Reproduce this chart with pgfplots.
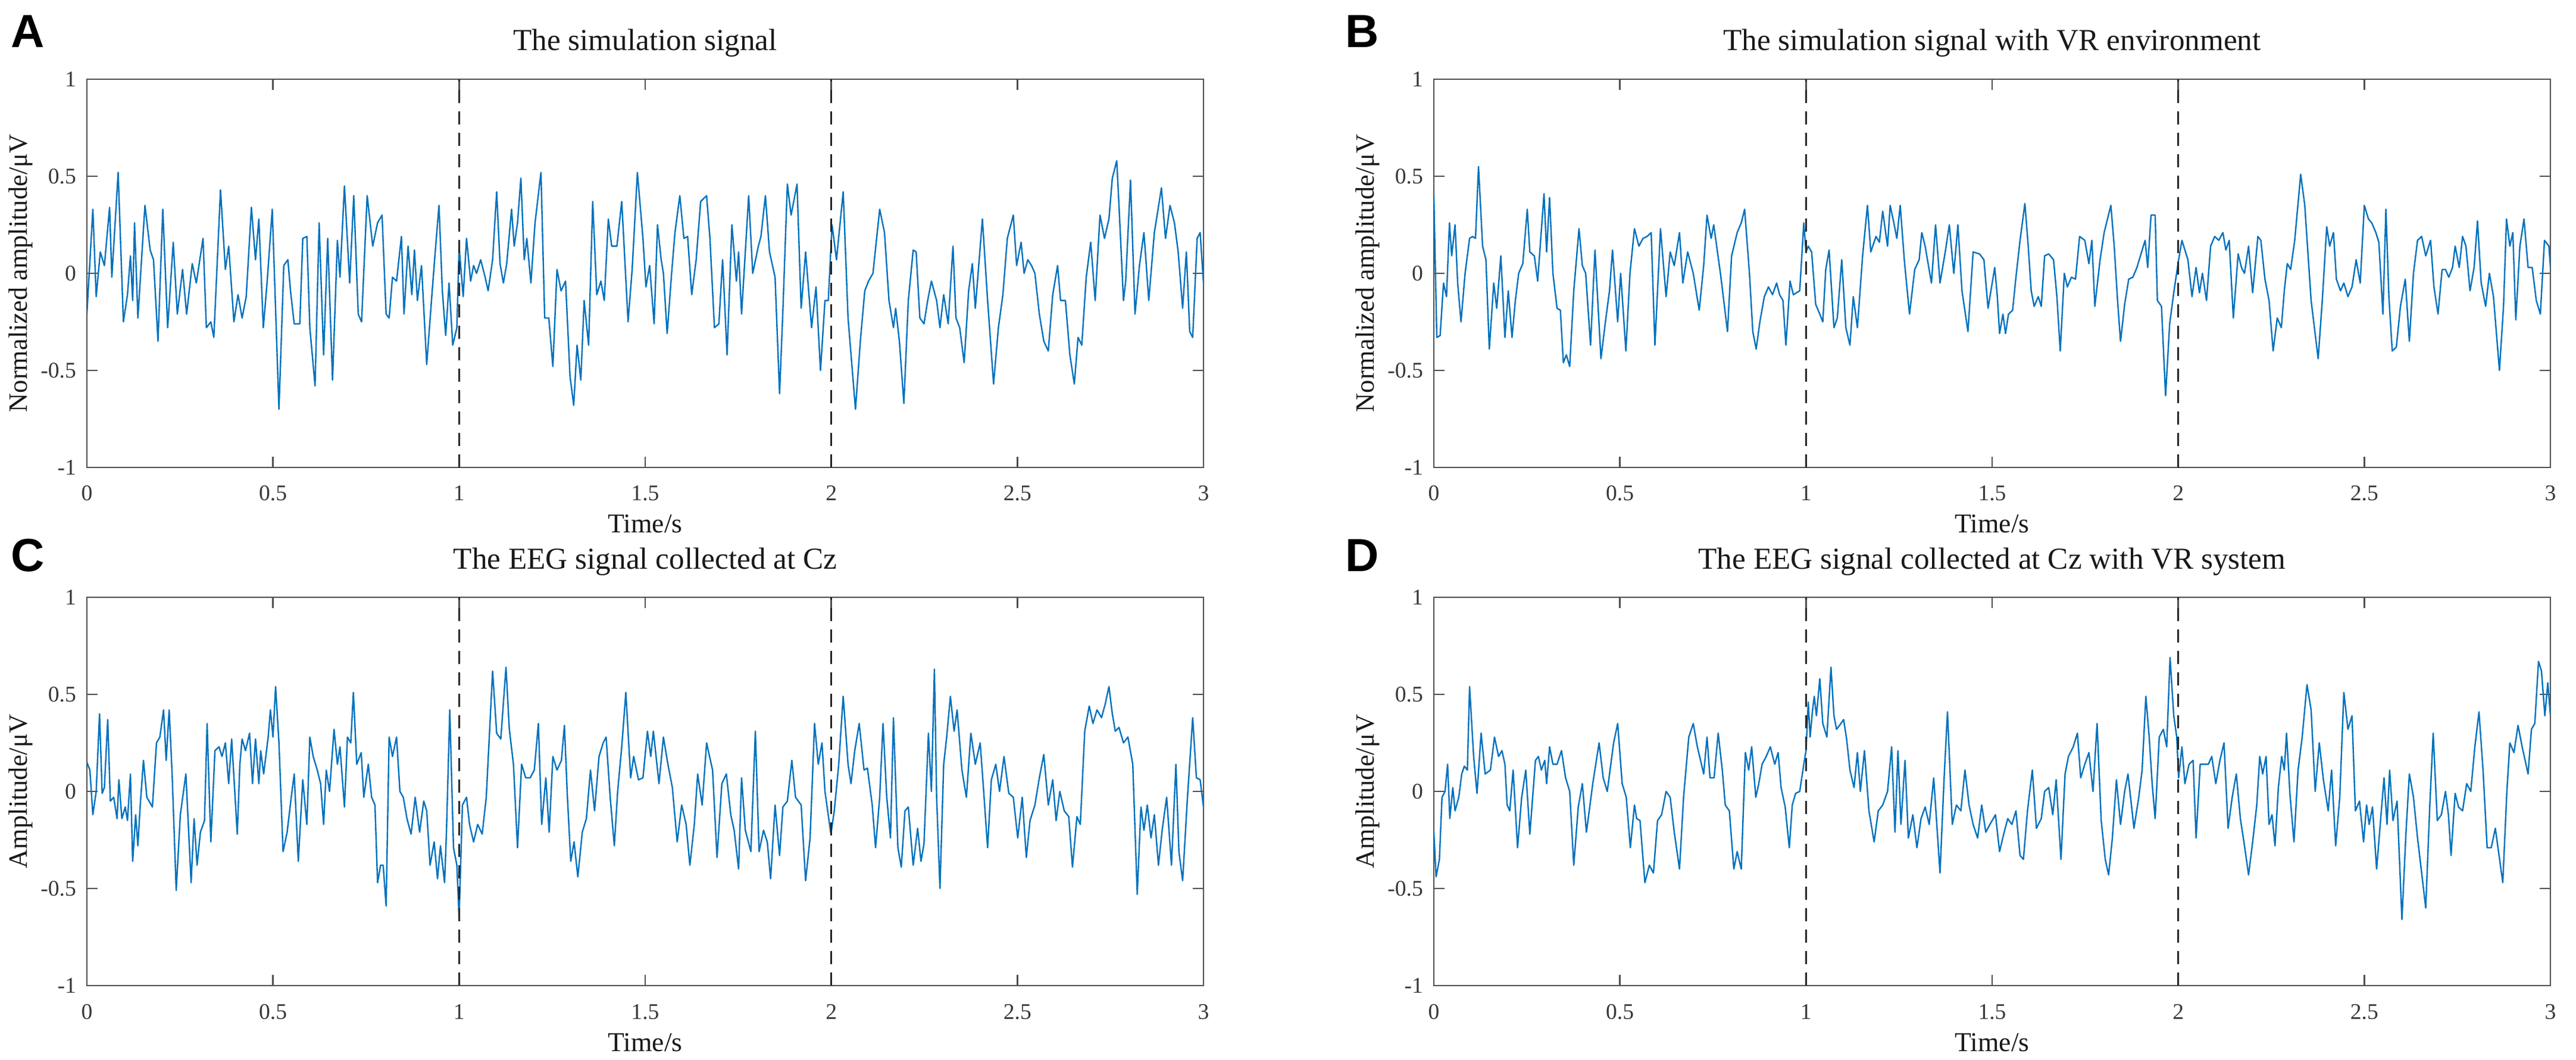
\documentclass[border=0pt]{standalone}
\usepackage{fontspec}
\setmainfont{Liberation Serif}
\newfontfamily\lettersf{Liberation Sans}
\usepackage{pgfplots}
\pgfplotsset{compat=1.18}
\definecolor{sigblue}{RGB}{0,114,189}
\definecolor{axcol}{RGB}{80,80,80}
\definecolor{labcol}{RGB}{55,55,55}
\definecolor{txtcol}{RGB}{25,25,25}
\tikzset{dashline/.style={draw=black!85, line width=0.7pt, dash pattern=on 5.5pt off 3.5pt},
  sig/.style={draw=sigblue, line width=0.6pt, line join=round}}
\pgfplotsset{panel/.style={
  scale only axis, width=469pt, height=163pt,
  xmin=0, xmax=3, ymin=-1, ymax=1,
  xtick={0,0.5,1,1.5,2,2.5,3}, xticklabels={0,0.5,1,1.5,2,2.5,3},
  ytick={-1,-0.5,0,0.5,1}, yticklabels={-1,-0.5,0,0.5,1},
  tick align=inside, major tick length=4.4pt,
  tick style={draw=axcol, line width=0.6pt},
  axis line style={draw=axcol, line width=0.7pt},
  tick label style={font=\fontsize{9.4}{11}\selectfont, text=labcol},
  xticklabel style={anchor=base, yshift=-14pt},
  yticklabel style={xshift=-1pt},
  title style={font=\fontsize{12.8}{14}\selectfont, text=txtcol, anchor=base, at={(axis description cs:0.5,1)}, yshift=6pt},
  xlabel={Time/s},
  xlabel style={font=\fontsize{11.4}{13}\selectfont, text=txtcol, anchor=base, at={(axis description cs:0.5,0)}, yshift=-27.5pt},
  ylabel style={font=\fontsize{11.1}{13}\selectfont, text=txtcol, at={(axis description cs:-0.0592,0.5)}, anchor=center},
}}
\begin{document}
\begin{tikzpicture}
\useasboundingbox (0,0) rectangle (1082pt,444.75pt);
% ---------------- A ----------------
\begin{axis}[panel, at={(36.5pt,248.5pt)}, anchor=south west,
  title={The simulation signal}, ylabel={Normalized amplitude/μV}]
\addplot[sig] coordinates {
(0.000,-0.21) (0.016,0.33) (0.025,-0.12) (0.036,0.11) (0.047,0.04) (0.061,0.34) (0.067,-0.02) (0.084,0.52) (0.098,-0.25) (0.109,-0.11) (0.117,0.09) (0.123,-0.14) (0.128,0.26) (0.137,-0.23) (0.156,0.35) (0.170,0.12) (0.179,0.07) (0.191,-0.35) (0.204,0.33) (0.217,-0.28) (0.232,0.16) (0.243,-0.21) (0.257,0.02) (0.268,-0.21) (0.283,0.05) (0.294,-0.05) (0.312,0.18) (0.321,-0.28) (0.333,-0.25) (0.341,-0.33) (0.359,0.43) (0.372,0.02) (0.381,0.14) (0.395,-0.25) (0.406,-0.11) (0.417,-0.23) (0.428,-0.12) (0.442,0.34) (0.453,0.07) (0.462,0.28) (0.474,-0.28) (0.484,-0.05) (0.498,0.33) (0.516,-0.70) (0.529,0.04) (0.540,0.07) (0.547,-0.09) (0.557,-0.26) (0.572,-0.26) (0.580,0.18) (0.591,0.19) (0.599,-0.28) (0.613,-0.58) (0.624,0.26) (0.636,-0.42) (0.647,0.18) (0.660,-0.55) (0.673,0.17) (0.680,-0.02) (0.692,0.45) (0.706,-0.05) (0.717,0.40) (0.729,-0.21) (0.738,-0.25) (0.753,0.40) (0.768,0.14) (0.781,0.26) (0.793,0.30) (0.804,-0.21) (0.812,-0.23) (0.821,-0.02) (0.832,-0.04) (0.845,0.19) (0.852,-0.21) (0.863,0.14) (0.873,-0.11) (0.880,0.12) (0.888,-0.14) (0.899,0.04) (0.913,-0.47) (0.927,-0.11) (0.935,0.09) (0.946,0.35) (0.955,-0.09) (0.964,-0.32) (0.973,-0.05) (0.983,-0.37) (0.994,-0.28) (1.000,0.14) (1.011,-0.12) (1.020,0.18) (1.031,-0.04) (1.039,0.04) (1.047,0.00) (1.058,0.07) (1.070,-0.02) (1.078,-0.09) (1.090,0.07) (1.101,0.42) (1.110,0.05) (1.119,-0.05) (1.128,0.05) (1.141,0.33) (1.148,0.14) (1.157,0.26) (1.166,0.49) (1.175,0.07) (1.182,0.18) (1.193,-0.05) (1.204,0.26) (1.220,0.52) (1.230,-0.23) (1.241,-0.23) (1.252,-0.48) (1.263,0.02) (1.274,-0.09) (1.286,-0.04) (1.298,-0.53) (1.308,-0.68) (1.317,-0.37) (1.327,-0.55) (1.336,-0.14) (1.348,-0.37) (1.359,0.37) (1.370,-0.11) (1.381,-0.04) (1.390,-0.14) (1.401,0.28) (1.410,0.14) (1.424,0.14) (1.437,0.37) (1.454,-0.25) (1.465,0.02) (1.479,0.52)
(1.494,0.18) (1.502,-0.07) (1.512,0.04) (1.524,-0.26) (1.533,0.25) (1.543,0.07) (1.549,0.00) (1.559,-0.31) (1.571,0.00) (1.580,0.21) (1.593,0.40) (1.604,0.18) (1.614,0.19) (1.625,-0.11) (1.637,0.07) (1.649,0.37) (1.665,0.40) (1.674,0.18) (1.686,-0.28) (1.698,-0.26) (1.708,0.07) (1.720,-0.42) (1.733,0.25) (1.745,-0.04) (1.751,0.11) (1.759,-0.21) (1.778,0.40) (1.789,0.00) (1.804,0.14) (1.811,0.19) (1.823,0.40) (1.834,0.11) (1.849,-0.02) (1.861,-0.62) (1.870,-0.19) (1.882,0.46) (1.892,0.30) (1.908,0.46) (1.919,-0.18) (1.931,0.11) (1.947,-0.28) (1.959,-0.07) (1.971,-0.50) (1.983,-0.14) (1.992,-0.14) (2.002,0.25) (2.014,0.07) (2.032,0.42) (2.045,-0.23) (2.065,-0.70) (2.078,-0.35) (2.090,-0.09) (2.100,-0.04) (2.112,0.00) (2.130,0.33) (2.143,0.21) (2.155,-0.14) (2.167,-0.28) (2.173,-0.18) (2.183,-0.35) (2.195,-0.67) (2.207,-0.14) (2.220,0.12) (2.228,0.11) (2.238,-0.23) (2.249,-0.26) (2.259,-0.14) (2.269,-0.04) (2.283,-0.14) (2.292,-0.28) (2.302,-0.11) (2.314,-0.26) (2.327,0.14) (2.335,-0.23) (2.345,-0.28) (2.357,-0.46) (2.369,-0.09) (2.379,0.05) (2.387,-0.18) (2.406,0.28) (2.420,-0.14) (2.436,-0.57) (2.449,-0.28) (2.461,-0.11) (2.473,0.18) (2.489,0.30) (2.498,0.04) (2.510,0.16) (2.518,0.00) (2.528,0.07) (2.538,0.04) (2.547,0.00) (2.559,-0.21) (2.571,-0.35) (2.583,-0.40) (2.595,-0.11) (2.608,0.04) (2.616,-0.14) (2.629,-0.14) (2.641,-0.42) (2.653,-0.57) (2.663,-0.33) (2.673,-0.37) (2.685,-0.02) (2.697,0.16) (2.709,-0.14) (2.722,0.30) (2.734,0.18) (2.746,0.28) (2.755,0.49) (2.767,0.58) (2.773,0.35) (2.785,-0.14) (2.791,-0.04) (2.804,0.48) (2.816,-0.21) (2.828,0.04) (2.840,0.21) (2.853,-0.14) (2.868,0.21) (2.887,0.44) (2.898,0.18) (2.910,0.35) (2.922,0.26) (2.932,0.11) (2.944,-0.18) (2.954,0.11) (2.963,-0.30) (2.971,-0.33) (2.983,0.18) (2.991,0.21) (3.000,-0.05)
};
\addplot[dashline] coordinates {(1,-1) (1,1)};
\addplot[dashline] coordinates {(2,-1) (2,1)};
\end{axis}
% ---------------- B ----------------
\begin{axis}[panel, at={(602.25pt,248.5pt)}, anchor=south west,
  title={The simulation signal with VR environment}, ylabel={Normalized amplitude/μV}]
\addplot[sig] coordinates {
(0.000,0.40) (0.008,-0.33) (0.017,-0.32) (0.026,-0.05) (0.034,-0.12) (0.042,0.26) (0.048,0.09) (0.057,0.25) (0.064,-0.05) (0.073,-0.25) (0.084,0.00) (0.096,0.18) (0.104,0.19) (0.112,0.18) (0.120,0.55) (0.131,0.14) (0.140,0.07) (0.149,-0.39) (0.161,-0.05) (0.169,-0.18) (0.180,0.09) (0.191,-0.33) (0.200,-0.09) (0.210,-0.33) (0.219,-0.14) (0.228,0.00) (0.239,0.05) (0.251,0.33) (0.258,0.11) (0.270,0.09) (0.279,-0.04) (0.296,0.41) (0.303,0.11) (0.311,0.39) (0.320,0.00) (0.331,-0.18) (0.340,-0.19) (0.348,-0.46) (0.356,-0.42) (0.365,-0.48) (0.376,-0.09) (0.390,0.23) (0.399,0.04) (0.408,0.00) (0.421,-0.37) (0.433,0.12) (0.449,-0.44) (0.461,-0.25) (0.472,-0.09) (0.480,0.12) (0.494,-0.25) (0.502,0.00) (0.516,-0.40) (0.527,0.00) (0.539,0.23) (0.551,0.14) (0.562,0.18) (0.573,0.19) (0.584,0.21) (0.594,-0.37) (0.609,0.23) (0.624,-0.12) (0.635,0.11) (0.646,0.04) (0.660,0.21) (0.669,-0.05) (0.682,0.11) (0.697,0.00) (0.713,-0.19) (0.725,0.04) (0.734,0.30) (0.745,0.18) (0.752,0.25) (0.770,0.00) (0.789,-0.30) (0.800,0.09) (0.815,0.21) (0.826,0.26) (0.835,0.33) (0.848,0.00) (0.857,-0.30) (0.866,-0.39) (0.876,-0.25) (0.888,-0.12) (0.899,-0.07) (0.910,-0.11) (0.921,-0.05) (0.929,-0.11) (0.938,-0.14) (0.946,-0.37) (0.957,-0.04) (0.966,-0.11) (0.983,-0.09) (0.994,0.26) (1.000,0.11) (1.006,0.14) (1.015,0.11) (1.026,-0.16) (1.037,-0.21) (1.045,-0.25) (1.053,0.02) (1.062,0.12) (1.075,-0.28) (1.084,-0.23) (1.096,0.07) (1.107,-0.28) (1.118,-0.37) (1.127,-0.12) (1.138,-0.28) (1.152,0.09) (1.165,0.35) (1.174,0.11) (1.188,0.19) (1.197,0.16) (1.206,0.32) (1.219,0.14) (1.226,0.35) (1.236,0.26) (1.244,0.18) (1.253,0.35) (1.264,0.07) (1.278,-0.21) (1.292,0.02) (1.304,0.07) (1.311,0.21) (1.320,0.14) (1.337,-0.05) (1.348,0.25) (1.360,-0.05) (1.374,0.11) (1.385,0.25) (1.397,0.00) (1.408,0.25) (1.419,-0.09) (1.435,-0.30) (1.449,0.11) (1.466,0.10) (1.478,0.07) (1.489,-0.18)
(1.507,0.03) (1.514,-0.12) (1.520,-0.31) (1.529,-0.21) (1.536,-0.31) (1.544,-0.21) (1.555,-0.19) (1.564,-0.02) (1.575,0.17) (1.588,0.36) (1.597,0.14) (1.605,-0.09) (1.613,-0.17) (1.624,-0.12) (1.632,-0.17) (1.641,0.09) (1.652,0.10) (1.665,0.07) (1.674,-0.12) (1.683,-0.40) (1.694,0.00) (1.702,-0.07) (1.713,-0.02) (1.724,-0.03) (1.735,0.19) (1.749,0.17) (1.760,0.05) (1.768,0.17) (1.776,-0.17) (1.790,0.07) (1.801,0.21) (1.819,0.35) (1.828,0.14) (1.837,-0.14) (1.845,-0.35) (1.856,-0.16) (1.867,-0.03) (1.878,-0.02) (1.889,0.03) (1.900,0.10) (1.911,0.17) (1.918,0.03) (1.927,0.30) (1.938,0.30) (1.944,-0.14) (1.955,-0.17) (1.966,-0.63) (1.977,-0.26) (1.988,-0.10) (2.001,0.07) (2.010,0.17) (2.018,0.12) (2.026,0.07) (2.037,-0.12) (2.048,0.03) (2.057,-0.10) (2.065,0.00) (2.076,-0.14) (2.087,0.14) (2.098,0.19) (2.109,0.17) (2.120,0.21) (2.128,0.12) (2.137,0.17) (2.148,-0.23) (2.161,0.10) (2.170,0.03) (2.178,0.00) (2.189,0.14) (2.200,-0.10) (2.214,0.19) (2.222,0.17) (2.233,-0.03) (2.244,-0.14) (2.255,-0.40) (2.266,-0.23) (2.277,-0.28) (2.285,-0.09) (2.293,0.05) (2.302,0.02) (2.313,0.17) (2.329,0.51) (2.340,0.35) (2.357,-0.14) (2.376,-0.44) (2.387,-0.14) (2.399,0.24) (2.407,0.14) (2.417,0.21) (2.425,-0.03) (2.436,-0.09) (2.445,-0.05) (2.456,-0.12) (2.467,-0.07) (2.478,0.07) (2.489,-0.05) (2.500,0.35) (2.511,0.28) (2.520,0.26) (2.531,0.21) (2.539,0.16) (2.550,-0.21) (2.558,0.33) (2.566,-0.12) (2.575,-0.40) (2.586,-0.38) (2.597,-0.17) (2.610,-0.03) (2.621,-0.35) (2.632,0.00) (2.643,0.17) (2.654,0.19) (2.665,0.09) (2.678,0.17) (2.687,-0.07) (2.698,-0.21) (2.709,0.02) (2.718,0.02) (2.727,-0.02) (2.737,0.03) (2.744,0.14) (2.755,0.03) (2.764,0.19) (2.773,0.14) (2.784,-0.09) (2.795,0.03) (2.804,0.27) (2.814,-0.05) (2.826,-0.17) (2.836,0.00) (2.847,-0.12) (2.863,-0.50) (2.874,-0.17) (2.882,0.28) (2.891,0.14) (2.899,0.21) (2.907,-0.24) (2.918,0.14) (2.929,0.28) (2.940,0.03) (2.951,0.03) (2.962,-0.14) (2.973,-0.21) (2.984,0.17) (2.996,0.14) (3.000,0.03)
};
\addplot[dashline] coordinates {(1,-1) (1,1)};
\addplot[dashline] coordinates {(2,-1) (2,1)};
\end{axis}
% ---------------- C ----------------
\begin{axis}[panel, at={(36.5pt,31pt)}, anchor=south west,
  title={The EEG signal collected at Cz}, ylabel={Amplitude/μV}]
\addplot[sig] coordinates {
(0.000,0.15) (0.008,0.11) (0.016,-0.12) (0.025,0.00) (0.034,0.40) (0.041,-0.01) (0.047,0.02) (0.056,0.37) (0.063,-0.05) (0.072,-0.03) (0.081,-0.14) (0.086,0.06) (0.094,-0.14) (0.103,-0.08) (0.109,-0.15) (0.117,0.09) (0.123,-0.36) (0.131,-0.12) (0.137,-0.28) (0.143,-0.08) (0.152,0.16) (0.161,-0.03) (0.176,-0.08) (0.187,0.25) (0.196,0.28) (0.206,0.42) (0.213,0.16) (0.221,0.42) (0.229,0.09) (0.240,-0.51) (0.251,-0.12) (0.266,0.09) (0.280,-0.47) (0.288,-0.14) (0.296,-0.38) (0.305,-0.21) (0.316,-0.15) (0.323,0.35) (0.333,-0.26) (0.344,0.21) (0.355,0.23) (0.363,0.18) (0.372,0.25) (0.381,0.04) (0.389,0.27) (0.404,-0.22) (0.411,0.14) (0.417,0.27) (0.426,0.21) (0.437,0.30) (0.445,0.04) (0.453,0.27) (0.462,0.04) (0.467,0.21) (0.475,0.09) (0.487,0.28) (0.493,0.42) (0.500,0.28) (0.507,0.54) (0.516,0.25) (0.527,-0.31) (0.538,-0.21) (0.549,-0.03) (0.557,0.09) (0.568,-0.36) (0.580,0.06) (0.591,-0.17) (0.599,0.28) (0.608,0.18) (0.619,0.11) (0.628,0.04) (0.636,-0.17) (0.643,0.11) (0.652,0.00) (0.664,0.32) (0.673,0.14) (0.680,0.23) (0.692,-0.08) (0.700,0.28) (0.709,0.25) (0.716,0.51) (0.725,0.14) (0.737,0.20) (0.744,-0.03) (0.756,0.14) (0.765,-0.03) (0.774,-0.07) (0.781,-0.47) (0.789,-0.38) (0.796,-0.38) (0.804,-0.59) (0.812,0.28) (0.821,0.18) (0.832,0.28) (0.841,0.00) (0.850,-0.03) (0.860,-0.14) (0.871,-0.22) (0.882,-0.03) (0.894,-0.21) (0.905,-0.05) (0.913,-0.10) (0.922,-0.38) (0.933,-0.26) (0.942,-0.45) (0.950,-0.28) (0.961,-0.47) (0.966,-0.21) (0.975,0.42) (0.985,-0.29) (0.994,-0.38) (1.000,-0.65) (1.009,-0.07) (1.020,-0.03) (1.028,-0.17) (1.039,-0.26) (1.050,-0.17) (1.062,-0.22) (1.073,-0.03) (1.090,0.62) (1.101,0.30) (1.112,0.27) (1.126,0.64) (1.135,0.32) (1.146,0.14) (1.157,-0.29) (1.168,0.14) (1.179,0.07) (1.191,0.07) (1.202,0.11) (1.213,0.35) (1.222,-0.17) (1.233,0.07) (1.242,-0.21) (1.252,0.18) (1.263,0.11) (1.275,0.16) (1.283,0.34) (1.291,-0.03) (1.300,-0.36) (1.309,-0.26) (1.319,-0.44) (1.331,-0.21) (1.342,-0.14) (1.353,0.11) (1.364,-0.10) (1.376,0.18) (1.387,0.25) (1.395,0.28) (1.406,-0.03) (1.417,-0.28) (1.426,0.00) (1.437,0.23) (1.448,0.51)
(1.461,0.07) (1.469,0.18) (1.482,0.06) (1.494,0.07) (1.506,0.31) (1.515,0.18) (1.522,0.31) (1.537,0.04) (1.549,0.28) (1.561,0.14) (1.573,0.02) (1.586,-0.26) (1.598,-0.07) (1.610,-0.17) (1.620,-0.38) (1.632,-0.17) (1.641,0.09) (1.653,-0.07) (1.665,0.25) (1.681,0.11) (1.693,-0.34) (1.706,0.04) (1.718,0.09) (1.730,-0.12) (1.739,-0.20) (1.751,-0.40) (1.759,0.07) (1.769,-0.20) (1.784,-0.31) (1.796,0.31) (1.806,-0.31) (1.818,-0.20) (1.828,-0.26) (1.837,-0.45) (1.849,-0.07) (1.861,-0.33) (1.870,-0.08) (1.882,-0.05) (1.894,0.16) (1.904,-0.03) (1.919,-0.07) (1.931,-0.46) (1.943,-0.24) (1.955,0.35) (1.965,0.14) (1.975,0.25) (1.983,0.00) (1.999,-0.22) (2.008,-0.10) (2.020,0.14) (2.032,0.49) (2.045,0.14) (2.053,0.04) (2.063,0.21) (2.075,0.35) (2.088,0.11) (2.097,0.12) (2.110,-0.07) (2.119,-0.29) (2.130,-0.03) (2.139,0.35) (2.149,-0.03) (2.159,-0.24) (2.167,0.38) (2.179,-0.29) (2.188,-0.39) (2.198,-0.10) (2.207,-0.08) (2.220,-0.38) (2.232,-0.19) (2.241,-0.36) (2.249,-0.27) (2.261,0.30) (2.269,0.00) (2.277,0.63) (2.283,-0.03) (2.292,-0.50) (2.302,0.14) (2.310,0.28) (2.320,0.49) (2.330,0.31) (2.338,0.42) (2.351,0.11) (2.363,-0.03) (2.375,0.30) (2.387,0.14) (2.400,0.25) (2.408,0.04) (2.420,-0.29) (2.430,0.06) (2.442,0.14) (2.452,0.00) (2.464,0.18) (2.477,-0.01) (2.489,-0.03) (2.501,-0.24) (2.513,-0.03) (2.524,-0.34) (2.534,-0.15) (2.547,-0.07) (2.559,0.07) (2.571,0.19) (2.583,-0.07) (2.595,0.06) (2.604,-0.15) (2.614,0.00) (2.626,-0.10) (2.638,-0.13) (2.648,-0.39) (2.660,-0.13) (2.669,-0.17) (2.681,0.31) (2.693,0.44) (2.703,0.35) (2.714,0.42) (2.726,0.38) (2.736,0.45) (2.746,0.54) (2.755,0.40) (2.763,0.31) (2.773,0.33) (2.785,0.25) (2.797,0.28) (2.810,0.14) (2.822,-0.53) (2.832,-0.08) (2.840,-0.20) (2.849,-0.07) (2.859,-0.24) (2.868,-0.12) (2.879,-0.38) (2.889,-0.20) (2.901,-0.03) (2.914,-0.38) (2.926,0.14) (2.934,-0.31) (2.944,-0.46) (2.957,-0.03) (2.971,0.38) (2.981,0.07) (2.991,0.06) (3.000,-0.08)
};
\addplot[dashline] coordinates {(1,-1) (1,1)};
\addplot[dashline] coordinates {(2,-1) (2,1)};
\end{axis}
% ---------------- D ----------------
\begin{axis}[panel, at={(602.25pt,31pt)}, anchor=south west,
  title={The EEG signal collected at Cz with VR system}, ylabel={Amplitude/μV}]
\addplot[sig] coordinates {
(0.000,-0.21) (0.006,-0.44) (0.015,-0.35) (0.022,-0.03) (0.030,0.00) (0.037,0.14) (0.043,-0.14) (0.051,0.02) (0.057,-0.10) (0.067,-0.03) (0.075,0.09) (0.082,0.13) (0.090,0.11) (0.096,0.54) (0.107,0.18) (0.116,-0.01) (0.127,0.30) (0.138,0.09) (0.152,0.11) (0.163,0.28) (0.174,0.18) (0.183,0.21) (0.191,0.14) (0.197,-0.07) (0.204,-0.10) (0.213,0.11) (0.225,-0.29) (0.236,-0.03) (0.247,0.11) (0.258,-0.22) (0.273,0.16) (0.281,0.18) (0.289,0.11) (0.298,0.16) (0.303,0.04) (0.311,0.23) (0.320,0.14) (0.331,0.14) (0.343,0.21) (0.354,0.07) (0.365,0.00) (0.376,-0.38) (0.388,-0.08) (0.399,0.04) (0.410,-0.21) (0.427,0.04) (0.444,0.25) (0.455,0.07) (0.466,0.00) (0.483,0.25) (0.494,0.35) (0.506,0.04) (0.517,-0.03) (0.528,-0.29) (0.539,-0.07) (0.545,-0.14) (0.554,-0.15) (0.567,-0.47) (0.579,-0.38) (0.590,-0.42) (0.601,-0.15) (0.612,-0.12) (0.624,0.00) (0.635,-0.03) (0.646,-0.21) (0.660,-0.40) (0.671,-0.03) (0.685,0.28) (0.697,0.35) (0.708,0.23) (0.719,0.14) (0.725,0.09) (0.734,0.28) (0.742,0.07) (0.753,0.07) (0.764,0.30) (0.775,0.11) (0.783,-0.07) (0.794,-0.10) (0.806,-0.40) (0.815,-0.31) (0.826,-0.40) (0.837,0.20) (0.846,0.11) (0.854,0.23) (0.865,-0.03) (0.873,0.04) (0.882,0.14) (0.893,0.18) (0.904,0.23) (0.916,0.14) (0.925,0.20) (0.933,0.02) (0.944,-0.08) (0.955,-0.29) (0.963,-0.07) (0.972,-0.01) (0.983,0.00) (0.994,0.14) (1.000,0.21) (1.006,0.46) (1.011,0.28) (1.017,0.41) (1.022,0.49) (1.028,0.39) (1.037,0.58) (1.045,0.35) (1.056,0.28) (1.067,0.64) (1.075,0.39) (1.082,0.32) (1.090,0.34) (1.101,0.37) (1.109,0.27) (1.118,0.11) (1.129,0.02) (1.138,0.20) (1.146,0.00) (1.157,0.21) (1.169,-0.10) (1.183,-0.26) (1.194,-0.10) (1.206,-0.07) (1.219,0.00) (1.230,0.23) (1.239,-0.21) (1.247,0.21) (1.255,-0.17) (1.266,0.16) (1.275,-0.24) (1.287,-0.12) (1.298,-0.29) (1.309,-0.14) (1.320,-0.08) (1.331,-0.17) (1.343,0.07) (1.360,-0.42) (1.371,0.07) (1.380,0.41) (1.393,-0.17) (1.404,-0.07) (1.416,-0.10) (1.427,0.11) (1.438,-0.07) (1.449,-0.17) (1.461,-0.24) (1.472,-0.07) (1.483,-0.21) (1.494,-0.17)
(1.509,-0.12) (1.520,-0.31) (1.531,-0.22) (1.542,-0.14) (1.553,-0.17) (1.564,-0.10) (1.575,-0.33) (1.584,-0.35) (1.595,-0.10) (1.608,0.11) (1.619,-0.19) (1.632,-0.14) (1.641,0.00) (1.652,0.02) (1.663,-0.12) (1.672,0.06) (1.685,-0.35) (1.696,0.09) (1.705,0.18) (1.718,0.23) (1.729,0.30) (1.738,0.07) (1.749,0.14) (1.760,0.20) (1.771,0.00) (1.782,0.35) (1.793,-0.15) (1.804,-0.35) (1.813,-0.43) (1.823,-0.24) (1.834,0.06) (1.845,-0.17) (1.856,0.00) (1.865,0.09) (1.872,-0.03) (1.881,-0.19) (1.894,-0.03) (1.903,0.11) (1.913,0.49) (1.922,0.28) (1.930,0.04) (1.938,-0.14) (1.949,0.28) (1.960,0.32) (1.969,0.23) (1.978,0.69) (1.988,0.39) (1.996,0.28) (2.001,0.07) (2.010,0.23) (2.018,0.04) (2.029,0.14) (2.040,0.16) (2.048,-0.24) (2.059,0.14) (2.070,0.14) (2.081,0.14) (2.090,0.18) (2.101,0.04) (2.112,0.16) (2.123,0.25) (2.134,-0.19) (2.145,-0.03) (2.156,0.09) (2.167,-0.14) (2.178,-0.28) (2.189,-0.43) (2.200,-0.26) (2.211,-0.07) (2.219,0.18) (2.227,0.09) (2.236,0.18) (2.244,-0.17) (2.252,-0.12) (2.260,-0.28) (2.269,0.02) (2.278,0.18) (2.285,0.11) (2.291,0.30) (2.300,-0.01) (2.311,-0.26) (2.322,0.11) (2.333,0.28) (2.346,0.55) (2.357,0.42) (2.368,0.00) (2.379,0.25) (2.390,0.06) (2.403,-0.10) (2.412,0.11) (2.423,-0.28) (2.434,-0.03) (2.445,0.51) (2.456,0.32) (2.467,0.39) (2.476,-0.10) (2.487,-0.05) (2.498,-0.26) (2.506,-0.07) (2.513,-0.17) (2.522,-0.08) (2.533,-0.40) (2.544,-0.14) (2.553,0.07) (2.561,-0.17) (2.568,0.11) (2.577,-0.15) (2.588,-0.05) (2.601,-0.66) (2.612,-0.21) (2.621,0.09) (2.632,-0.03) (2.643,-0.24) (2.654,-0.42) (2.665,-0.60) (2.676,-0.07) (2.685,0.30) (2.696,-0.15) (2.707,-0.12) (2.718,0.00) (2.726,-0.12) (2.733,-0.33) (2.744,-0.01) (2.753,-0.08) (2.764,-0.10) (2.775,0.04) (2.786,0.00) (2.797,0.23) (2.808,0.41) (2.819,0.11) (2.830,-0.29) (2.841,-0.29) (2.852,-0.19) (2.872,-0.47) (2.883,0.00) (2.891,0.25) (2.902,0.20) (2.913,0.34) (2.924,0.23) (2.932,0.16) (2.940,0.09) (2.949,0.32) (2.958,0.35) (2.968,0.67) (2.976,0.62) (2.985,0.39) (2.993,0.56) (3.000,0.39)
};
\addplot[dashline] coordinates {(1,-1) (1,1)};
\addplot[dashline] coordinates {(2,-1) (2,1)};
\end{axis}
% panel letters
\node[font=\lettersf\bfseries\fontsize{19.5}{20}\selectfont, inner sep=0pt] at (11.75pt,431.5pt) {A};
\node[font=\lettersf\bfseries\fontsize{19.5}{20}\selectfont, inner sep=0pt] at (572.25pt,431.5pt) {B};
\node[font=\lettersf\bfseries\fontsize{19.5}{20}\selectfont, inner sep=0pt] at (11.75pt,211.5pt) {C};
\node[font=\lettersf\bfseries\fontsize{19.5}{20}\selectfont, inner sep=0pt] at (572.25pt,211.5pt) {D};
\end{tikzpicture}
\end{document}
